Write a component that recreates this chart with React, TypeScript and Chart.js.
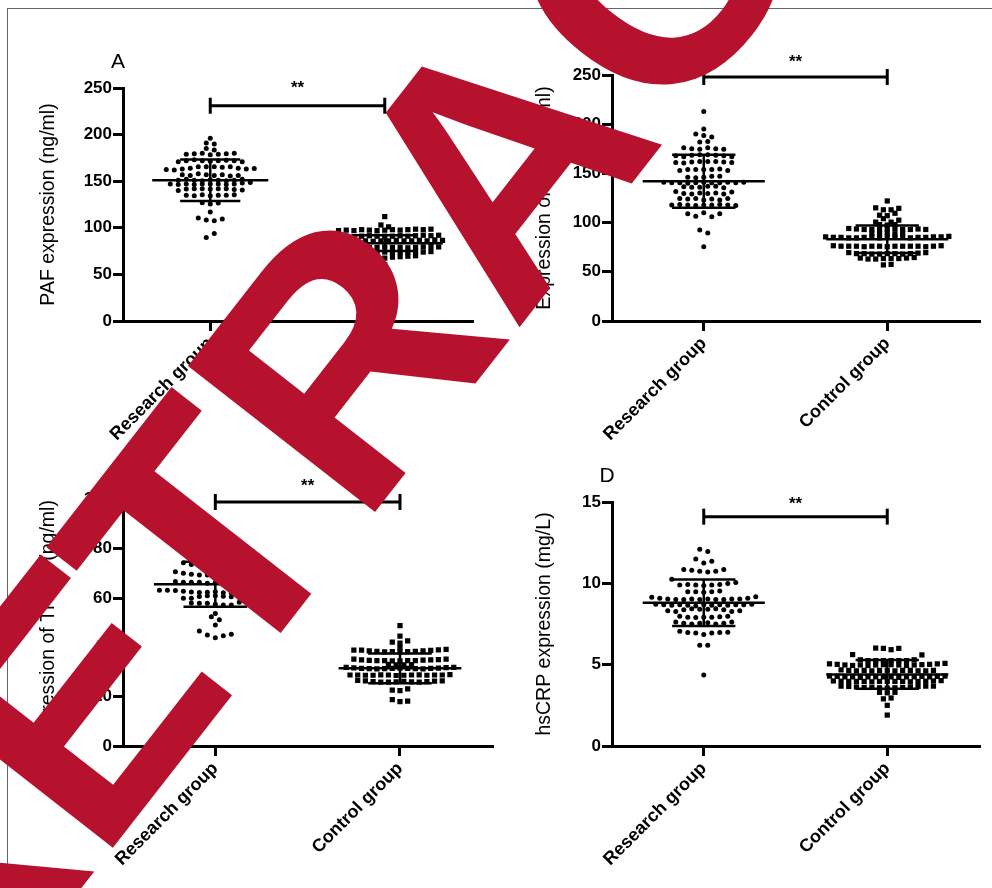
import React, { useEffect, useRef } from "react";
import { Chart, registerables } from "chart.js";

Chart.register(...registerables);

const FONT = '"Liberation Sans", Arial, Helvetica, sans-serif';
const groups = ["Research group", "Control group"];

// Each inner array is one horizontal row of the dot plot (values read per dot).

// ---- A: PAF (ng/ml)
const pafResearch = [
  [196],
  [191, 190],
  [185, 183.5],
  [179, 179.5, 180, 178.5, 179, 179.5, 180],
  [171, 172, 173, 172, 171.5, 172, 172.5, 172, 171],
  [162.5, 162, 163, 164, 165.5, 165.5, 165.5, 165, 165.5, 164, 163, 163.5],
  [157, 156, 158, 157, 156, 157, 155.5, 156],
  [151, 152, 151, 150.5, 151.5, 151, 150.5, 151, 152],
  [147, 146.5, 147, 146.5, 147, 147, 147, 146.5, 147, 148, 148.5],
  [140, 141.5, 142, 142, 141.5, 142, 142, 141, 140.5],
  [135, 134.5, 135.5, 134.5, 135, 135, 135.5],
  [127, 125.5, 126.5],
  [117],
  [110.5, 108.5, 107.5, 109.5],
  [89.5, 94],
];
const pafControl = [
  [112],
  [103, 101],
  [97, 97.5, 97, 98, 97.5, 97, 97.5, 98, 97.5, 98, 98.5, 98, 98.5],
  [90, 90.5, 91, 90.5, 91, 91.5, 91, 91, 91, 91.5, 91, 91.5, 92, 91.5, 92],
  [86, 86.5, 86, 86, 86.5, 86, 85.5, 86, 86, 86.5, 86, 86, 86.5, 86, 87, 86.5],
  [79, 79.5, 79, 79, 78.5, 79, 79, 79.5, 79, 79, 78.5, 79, 79.5, 80, 79.5],
  [74, 73.5, 74, 73, 73.5, 73.5, 74, 73.5, 74, 74, 74.5, 74, 74.5],
  [70, 69, 68, 68, 67.5, 68.5, 69, 69.5, 70],
  [60],
];
const pafMean = [151, 83.5];
const pafSd = [22.3, 8.5];
const pafBracket = 231;

// ---- B: IL-6 (pg/ml)
const il6Research = [
  [213],
  [195],
  [190, 188.5, 187],
  [182, 182.5],
  [176, 175, 174.5, 176, 175, 174.5],
  [168, 167, 168.5, 169, 169, 168.5, 168, 167],
  [161, 160.5, 161.5, 162, 162, 162, 161.5, 161],
  [153, 154, 154, 154, 154, 154.5, 153],
  [146, 145.5, 146, 147, 147],
  [141, 140.5, 140.5, 140, 140.5, 141, 140.5, 140.5, 141, 140.5, 141],
  [136.5, 136, 136, 137, 137, 135.5],
  [131.5, 129.5, 129, 130, 129.5, 130, 129, 131],
  [124.5, 124, 124.5, 123, 124, 123, 124.5],
  [118, 118.5, 118, 117.5, 118, 118, 118.5, 118, 117.5],
  [109, 106.5, 110, 106, 109],
  [92.5, 89.5],
  [75.5],
];
const il6Control = [
  [122],
  [115, 113, 113, 114.5],
  [107.5, 107, 109.5],
  [100.5, 104, 100.5, 102.5],
  [98, 97.5, 98],
  [94, 93.5, 93, 93, 93.5, 93.5, 93.5, 93, 93, 93.5, 93],
  [89, 89, 89.5, 88.5, 89],
  [85.5, 85, 85, 84.5, 84.5, 85, 85, 84.5, 85, 85, 85, 84.5, 85, 85, 85.5, 85.5, 86],
  [76.5, 76, 76, 76, 75.5, 76, 76, 75.5, 76, 76, 76, 76, 75.5, 76, 76.5],
  [69.5, 68.5, 68.5, 68, 68, 68.5, 68.5, 68, 68.5, 69, 69.5],
  [64, 63, 63, 63.5, 63.5, 63.5, 64, 64.5],
  [57, 57.5],
];
const il6Mean = [142, 83];
const il6Sd = [27, 14];
const il6Bracket = 248;

// ---- C: TNF-α (pg/ml)
const tnfResearch = [
  [74.3, 73.6, 73.2, 73.5, 73.8, 74, 73.6, 73.4, 73.8],
  [70.7, 70.1, 69.7, 69.4, 69.4, 69.6, 69.8, 70, 70.2, 70.3, 70.5],
  [66.7, 66.4, 66.4, 66.4, 66, 66.3, 66.5, 66.4, 66.6, 66.5, 66.7],
  [63.2, 63.2, 63.1, 62.8, 62.5, 62.3, 62.4, 62.6, 62.2, 62.1, 62.4, 62.6, 62.3, 62.7, 62.9],
  [59.9, 59.9, 60.6, 61, 61, 60.8, 60.5, 60.2, 60.4],
  [58, 57.9, 57.9, 57.5, 57.2, 57.2, 58.3],
  [53.8],
  [52.4, 51.2],
  [49.1],
  [46.7, 45, 43.9, 44.7, 45.3],
];
const tnfControl = [
  [48.8],
  [44.6],
  [42.1, 41.7, 42.6],
  [39.9],
  [38.9, 38.9, 38.6, 38.4, 38.2, 38.3, 38.2, 38.3, 38.4, 38.6, 38.8, 39.0, 39.2],
  [35.2, 34.9, 34.7, 34.6, 34.6, 34.5, 34.5, 34.6, 34.6, 34.8, 34.9, 35.0, 35.2],
  [33.1, 32.9, 32.9, 33.0],
  [31.9, 31.7, 31.5, 31.4, 31.3, 31.4, 31.5, 31.6, 31.5, 31.4, 31.3, 31.5, 31.6, 31.8, 31.9],
  [28.8, 28.8, 28.7, 28.7, 28.9, 28.8, 28.6, 28.7, 28.8, 28.9, 28.7, 28.8, 28.8, 29.0],
  [26.6, 26.4, 26.1, 25.9, 25.9, 26.0, 26.2, 26.0, 25.9, 26.1, 26.3, 26.4],
  [22.7, 22.5, 23.2],
  [18.8, 18, 18.2],
];
const tnfMean = [65.6, 31.5];
const tnfSd = [9.1, 6];
const tnfBracket = 99;

// ---- D: hsCRP (mg/L)
const crpResearch = [
  [12.1, 11.95],
  [11.5, 11.25, 11.35],
  [10.85, 10.8, 10.75, 10.7, 10.75, 10.85],
  [10.25, 9.9, 9.93, 9.9, 9.87, 9.9, 9.93, 9.99, 10.05],
  [9.49, 9.49, 9.45, 9.49, 9.53],
  [9.14, 9.08, 9.04, 9.0, 9.0, 9.04, 9.0, 9.04, 9.0, 9.0, 9.04, 9.04, 9.08, 9.18],
  [8.72, 8.68, 8.65, 8.68, 8.65, 8.6, 8.68, 8.65, 8.68, 8.65, 8.68, 8.68, 8.72],
  [8.31, 8.27, 8.37, 8.43, 8.4, 8.4, 8.43, 8.37, 8.27, 8.31],
  [7.98, 7.92, 7.9, 7.92, 7.92, 7.95, 7.98],
  [7.62, 7.54, 7.5, 7.54, 7.58, 7.5, 7.54, 7.62],
  [7.05, 6.98, 6.95, 6.85, 6.95, 6.98, 7.0],
  [6.2, 6.2],
  [4.36],
];
const crpControl = [
  [6.02, 6.0, 5.92, 6.0],
  [5.62, 5.3, 5.25, 5.25, 5.25, 5.25, 5.25, 5.25, 5.3, 5.6],
  [5.05, 5.02, 4.98, 4.95, 4.98, 4.95, 4.98, 5.0, 5.0, 4.98, 4.95, 4.98, 5.0, 5.02, 5.05, 5.08],
  [4.68, 4.65, 4.62, 4.65, 4.62, 4.65, 4.65, 4.62, 4.65, 4.65, 4.62, 4.62, 4.65],
  [4.3, 4.28, 4.25, 4.25, 4.22, 4.25, 4.25, 4.25, 4.25, 4.22, 4.25, 4.25, 4.28, 4.25, 4.28, 4.3],
  [4.0, 3.98, 3.97, 3.97, 3.97, 3.95, 3.97, 3.97, 3.97, 3.97, 3.95, 3.97, 3.98, 4.0, 4.02],
  [3.68, 3.66, 3.63, 3.6, 3.6, 3.58, 3.56, 3.58, 3.6, 3.63, 3.66, 3.68, 3.68],
  [3.3, 3.27, 3.3],
  [2.9, 2.95],
  [2.5],
  [1.9],
];
const crpMean = [8.8, 4.4];
const crpSd = [1.43, 0.88];
const crpBracket = 14.1;

type Box = { left: number; top: number; width: number; height: number };
type Area = { left: number; right: number; top: number; bottom: number };
type PanelSpec = {
  letter: string;
  pos: Box;
  area: Area;
  yMax: number;
  yStep: number;
  title: string;
  research: number[][];
  control: number[][];
  mean: number[];
  sd: number[];
  bracket: number;
  starGap: number;
};

const panels: PanelSpec[] = [
  {
    letter: "A",
    pos: { left: 0, top: 0, width: 496, height: 440 },
    area: { left: 123, right: 472, top: 88, bottom: 321 },
    yMax: 250, yStep: 50,
    title: "PAF expression (ng/ml)",
    research: pafResearch, control: pafControl, mean: pafMean, sd: pafSd, bracket: pafBracket, starGap: 13,
  },
  {
    letter: "B",
    pos: { left: 496, top: 0, width: 496, height: 440 },
    area: { left: 116, right: 483, top: 75, bottom: 321 },
    yMax: 250, yStep: 50,
    title: "Expression of IL-6 (pg/ml)",
    research: il6Research, control: il6Control, mean: il6Mean, sd: il6Sd, bracket: il6Bracket, starGap: 10,
  },
  {
    letter: "C",
    pos: { left: 0, top: 440, width: 496, height: 448 },
    area: { left: 123, right: 493, top: 59.5, bottom: 306 },
    yMax: 100, yStep: 20,
    title: "Expression of TNF-α (pg/ml)",
    research: tnfResearch, control: tnfControl, mean: tnfMean, sd: tnfSd, bracket: tnfBracket, starGap: 11,
  },
  {
    letter: "D",
    pos: { left: 496, top: 440, width: 496, height: 448 },
    area: { left: 116, right: 483, top: 62, bottom: 306 },
    yMax: 15, yStep: 5,
    title: "hsCRP expression (mg/L)",
    research: crpResearch, control: crpControl, mean: crpMean, sd: crpSd, bracket: crpBracket, starGap: 8,
  },
];

// Spread each row of values sideways around the group centre.
function swarm(rows: number[][], center: number, step: number) {
  const pts: { x: number; y: number }[] = [];
  rows.forEach((row) => {
    const n = row.length;
    row.forEach((v, i) => pts.push({ x: center + (i - (n - 1) / 2) * step, y: v }));
  });
  return pts;
}

// Mean ± SD bars, significance bracket and panel letter.
function marksPlugin(spec: PanelSpec) {
  return {
    id: "dotMarks",
    afterDatasetsDraw(chart: any) {
      const { ctx, chartArea } = chart;
      const x = chart.scales.x;
      const y = chart.scales.y;
      const seg = (x1: number, y1: number, x2: number, y2: number) => {
        ctx.beginPath();
        ctx.moveTo(x1, y1);
        ctx.lineTo(x2, y2);
        ctx.stroke();
      };
      ctx.save();
      ctx.strokeStyle = "#000";
      ctx.lineCap = "butt";
      ctx.lineWidth = 2.5;
      [1, 3].forEach((c, i) => {
        const m = spec.mean[i];
        const s = spec.sd[i];
        const xc = x.getPixelForValue(c);
        const hm = x.getPixelForValue(c + 0.665) - xc;
        const hs = x.getPixelForValue(c + 0.345) - xc;
        const ym = y.getPixelForValue(m);
        const yu = y.getPixelForValue(m + s);
        const yl = y.getPixelForValue(m - s);
        seg(xc - hm, ym, xc + hm, ym);
        seg(xc - hs, yu, xc + hs, yu);
        seg(xc - hs, yl, xc + hs, yl);
        seg(xc, yu, xc, yl);
      });
      ctx.lineWidth = 3;
      const by = y.getPixelForValue(spec.bracket);
      const x1 = x.getPixelForValue(1);
      const x2 = x.getPixelForValue(3);
      seg(x1, by, x2, by);
      seg(x1, by - 8, x1, by + 8);
      seg(x2, by - 8, x2, by + 8);
      ctx.fillStyle = "#000";
      ctx.textAlign = "center";
      ctx.textBaseline = "alphabetic";
      ctx.font = `bold 17px ${FONT}`;
      ctx.fillText("**", (x1 + x2) / 2, by - spec.starGap);
      ctx.font = `21px ${FONT}`;
      ctx.fillText(spec.letter, chartArea.left - 5, chartArea.top - 20);
      ctx.restore();
    },
  };
}

function Panel({ spec }: { spec: PanelSpec }) {
  const ref = useRef<HTMLCanvasElement>(null);
  useEffect(() => {
    const { area, pos } = spec;
    const unit = 4 / (area.right - area.left);
    const chart = new Chart(ref.current as HTMLCanvasElement, {
      type: "scatter",
      data: {
        datasets: [
          {
            data: swarm(spec.research, 1, 8 * unit),
            pointStyle: "circle",
            pointRadius: 2.5,
            pointHoverRadius: 2.5,
            pointBackgroundColor: "#000",
            pointBorderWidth: 0,
          },
          {
            data: swarm(spec.control, 3, 7.7 * unit),
            pointStyle: "rect",
            pointRadius: 3.7,
            pointHoverRadius: 3.7,
            pointBackgroundColor: "#000",
            pointBorderWidth: 0,
          },
        ],
      },
      options: {
        animation: false,
        responsive: false,
        maintainAspectRatio: false,
        events: [],
        layout: { padding: { left: 0, top: area.top, right: pos.width - area.right, bottom: 0 } },
        plugins: { legend: { display: false }, tooltip: { enabled: false } },
        scales: {
          x: {
            type: "linear",
            min: 0,
            max: 4,
            afterBuildTicks: (s: any) => {
              s.ticks = [{ value: 1 }, { value: 3 }];
            },
            afterFit: (s: any) => {
              s.height = pos.height - area.bottom;
            },
            ticks: {
              autoSkip: false,
              minRotation: 45,
              maxRotation: 45,
              padding: 2,
              color: "#000",
              font: { family: FONT, size: 18, weight: "bold" },
              callback: (v: any) => (v === 1 ? groups[0] : v === 3 ? groups[1] : ""),
            },
            grid: { drawOnChartArea: false, drawTicks: true, tickLength: 10, lineWidth: 3, tickWidth: 3, tickColor: "#000", color: "#000" },
            border: { display: true, width: 3, color: "#000" },
          },
          y: {
            min: 0,
            max: spec.yMax,
            afterFit: (s: any) => {
              s.width = area.left;
            },
            ticks: {
              stepSize: spec.yStep,
              padding: 1,
              color: "#000",
              font: { family: FONT, size: 17, weight: "bold" },
            },
            grid: { drawOnChartArea: false, drawTicks: true, tickLength: 10, lineWidth: 3, tickWidth: 3, tickColor: "#000", color: "#000" },
            border: { display: true, width: 3, color: "#000" },
            title: {
              display: true,
              text: spec.title,
              color: "#000",
              font: { family: FONT, size: 19.5 },
              padding: { top: 37, bottom: 0 },
            },
          },
        },
      } as any,
      plugins: [marksPlugin(spec)],
    });
    return () => chart.destroy();
  }, [spec]);
  const { pos } = spec;
  return (
    <canvas
      ref={ref}
      width={pos.width}
      height={pos.height}
      style={{ position: "absolute", left: pos.left, top: pos.top, width: pos.width, height: pos.height }}
    />
  );
}

// Diagonal stamp across the figure; the first two letters sit slightly closer to the rest.
const STAMP_HEAD = "RE";
const STAMP_TAIL = "TRACTED";
const STAMP_SIZE = 345;
const STAMP_ANGLE = 52;
const STAMP_X = -64;
const STAMP_Y = 1074;
const STAMP_HEAD_SHIFT = 15;

function Stamp() {
  const ref = useRef<HTMLCanvasElement>(null);
  useEffect(() => {
    const ctx = (ref.current as HTMLCanvasElement).getContext("2d");
    if (!ctx) return;
    ctx.clearRect(0, 0, 992, 888);
    ctx.save();
    ctx.translate(STAMP_X, STAMP_Y);
    ctx.rotate((-STAMP_ANGLE * Math.PI) / 180);
    ctx.font = `bold ${STAMP_SIZE}px ${FONT}`;
    ctx.fillStyle = "#b6112d";
    ctx.textBaseline = "alphabetic";
    ctx.textAlign = "left";
    const headWidth = ctx.measureText(STAMP_HEAD).width;
    ctx.fillText(STAMP_HEAD, STAMP_HEAD_SHIFT, 0);
    ctx.fillText(STAMP_TAIL, headWidth, 0);
    ctx.restore();
  }, []);
  return (
    <canvas
      ref={ref}
      width={992}
      height={888}
      style={{ position: "absolute", left: 0, top: 0, width: 992, height: 888, pointerEvents: "none" }}
    />
  );
}

export default function App() {
  return (
    <div
      style={{
        position: "absolute",
        left: 0,
        top: 0,
        width: 992,
        height: 888,
        overflow: "hidden",
        background: "#fff",
      }}
    >
      {panels.map((p) => (
        <Panel key={p.letter} spec={p} />
      ))}
      <div
        style={{
          position: "absolute",
          left: 7,
          top: 8,
          width: 990,
          height: 885,
          borderTop: "1px solid #666",
          borderLeft: "1px solid #666",
        }}
      />
      <Stamp />
    </div>
  );
}
